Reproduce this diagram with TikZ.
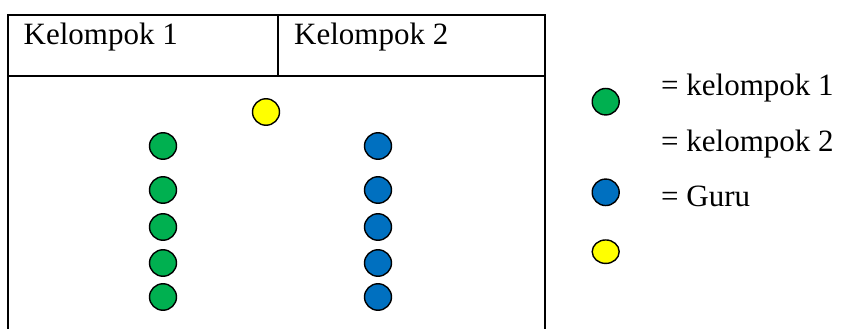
\documentclass[tikz,border=0pt]{standalone}
\usepackage{fontspec}
\setmainfont{Liberation Serif}
\usetikzlibrary{shapes.geometric}
\definecolor{grp1}{HTML}{00B050}
\definecolor{grp2}{HTML}{0070C0}
\definecolor{guru}{HTML}{FFFF00}
\begin{document}
\begin{tikzpicture}[x=1pt,y=-1pt,
  dot/.style={ellipse,draw=black,line width=1.4pt,inner sep=0pt,minimum width=27pt,minimum height=26.5pt},
  gdot/.style={dot,fill=grp1},
  bdot/.style={dot,fill=grp2},
  ydot/.style={dot,fill=guru},
  lbl/.style={anchor=base west,inner sep=0pt,font=\fontsize{31}{37}\selectfont},
  border/.style={line width=1.8pt}]
\useasboundingbox (0,0) rectangle (841,329);
% table
\coordinate (bl) at (8,329);
\coordinate (tl) at (8,15);
\coordinate (tr) at (545,15);
\coordinate (br) at (545,329);
\coordinate (hl) at (8,76);
\coordinate (hr) at (545,76);
\coordinate (dt) at (278,15);
\coordinate (db) at (278,76);
\draw[border] (bl) -- (tl) -- (tr) -- (br);
\draw[border] (hl) -- (hr);
\draw[border] (dt) -- (db);
\node[lbl] (k1) at (23.5,44.3) {Kelompok 1};
\node[lbl] (k2) at (294,44.3) {Kelompok 2};
% guru
\node[ydot] (y0) at (266,112) {};
% groups
\foreach \yy [count=\i] in {146,190,227,263,297}{
  \node[gdot] (g\i) at (163,\yy) {};
  \node[bdot] (b\i) at (378,\yy) {};
}
% legend
\node[gdot] (lg) at (605.7,101.7) {};
\node[bdot] (lb) at (605.7,192.3) {};
\node[ydot,minimum height=23.5pt] (ly) at (605.7,251.7) {};
\node[lbl] (t1) at (661,95.5) {= kelompok 1};
\node[lbl] (t2) at (661,151) {= kelompok 2};
\node[lbl] (t3) at (661,206.5) {= Guru};
\end{tikzpicture}
\end{document}
